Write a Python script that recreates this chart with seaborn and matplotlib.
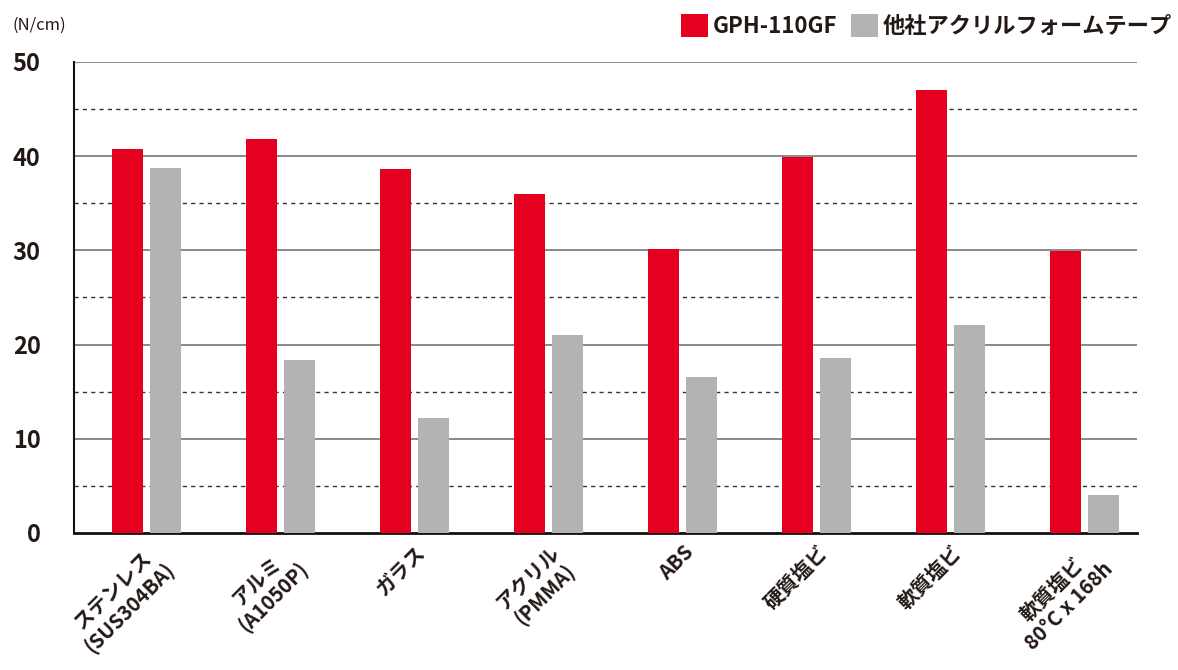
import pandas as pd
import matplotlib.pyplot as plt
import seaborn as sns

# Data (N/cm)
materials = ['ステンレス\n(SUS304BA)', 'アルミ\n(A1050P)', 'ガラス', 'アクリル\n(PMMA)',
             'ABS', '硬質塩ビ', '軟質塩ビ', '軟質塩ビ\n80°C x 168h']
gph = [40.8, 41.8, 38.6, 36.0, 30.1, 39.9, 47.0, 29.9]
other = [38.7, 18.4, 12.2, 21.0, 16.6, 18.6, 22.1, 4.0]
series = ['GPH-110GF', '他社アクリルフォームテープ']

df = pd.DataFrame({
    'material': materials * 2,
    'value': gph + other,
    'series': [series[0]] * len(materials) + [series[1]] * len(materials),
})

sns.set_style('white')
plt.rcParams['font.family'] = ['Noto Sans CJK JP', 'DejaVu Sans']

fig = plt.figure(figsize=(11.78, 6.70), dpi=100)
ax = fig.add_axes([0.0628, 0.2045, 0.9024, 0.703])

sns.barplot(data=df, x='material', y='value', hue='series',
            palette=['#E60020', '#B3B3B3'], width=0.567, gap=0.184,
            saturation=1, linewidth=0, ax=ax, zorder=3)

ax.set_ylim(0, 50)
ax.set_xlim(-0.54, 7.39)

# gridlines: solid every 10, dashed at 5s
for y in [10, 20, 30, 40, 50]:
    ax.axhline(y, color='#808080', lw=1.3, zorder=1)
for y in [5, 15, 25, 35, 45]:
    ax.axhline(y, color='#333333', lw=1.0, ls=(0, (3, 3)), zorder=1)

for s in ['top', 'right']:
    ax.spines[s].set_visible(False)
ax.spines['left'].set_color('#111111')
ax.spines['left'].set_linewidth(1.5)
ax.spines['bottom'].set_color('#111111')
ax.spines['bottom'].set_linewidth(2)

ax.set_yticks([0, 10, 20, 30, 40, 50])
ax.set_yticklabels(['0', '10', '20', '30', '40', '50'], fontsize=17, fontweight='bold', color='#231815')
ax.tick_params(axis='y', length=0, pad=24)
ax.tick_params(axis='x', length=0, pad=6)
ax.set_xticks(range(len(materials)))
ax.set_xticklabels(materials, rotation=45, ha='right', rotation_mode='anchor',
                   fontsize=14.5, fontweight='bold', color='#231815', multialignment='center',
                   linespacing=1.15)
ax.set_xlabel('')
ax.set_ylabel('')

fig.text(12 / 1178, 1 - 25 / 670, '(N/cm)', fontsize=12, color='#231815', va='center')

sns.move_legend(ax, 'upper right', bbox_to_anchor=(1.012, 1.009),
                bbox_transform=fig.transFigure, ncol=2, frameon=False, title=None,
                handlelength=1.25, handleheight=1.25, handletextpad=0.2, columnspacing=0.6,
                prop={'size': 16, 'weight': 'bold'})
for t in ax.get_legend().get_texts():
    t.set_color('#231815')

fig.savefig('out.png', dpi=100)
